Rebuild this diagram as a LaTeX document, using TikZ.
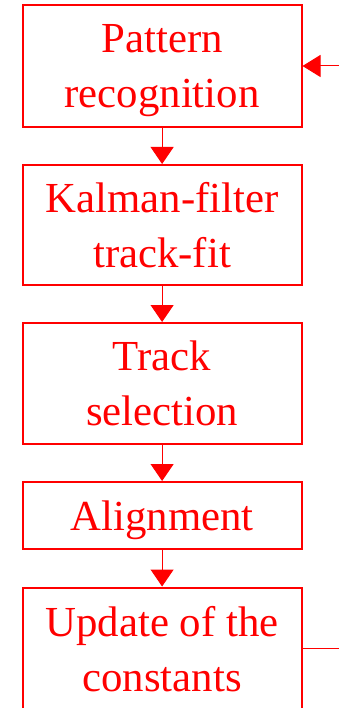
\documentclass[tikz,border=0pt]{standalone}
\usepackage{fontspec}
\setmainfont{Liberation Serif}
\usetikzlibrary{arrows.meta}
\definecolor{pptred}{RGB}{255,0,0}
\begin{document}
\begin{tikzpicture}[x=1pt,y=-1pt,
  stagebox/.style={draw=pptred, line width=2pt, text=pptred, minimum width=278.8pt,
    inner sep=0pt, align=center, text depth=0pt,
    font=\fontsize{42.8}{55}\selectfont},
  flowarrow/.style={draw=pptred, line width=1pt, -{Triangle[length=17pt,width=23pt]}},
  sidearrow/.style={draw=pptred, line width=1pt, -{Triangle[length=18pt,width=22pt]}},
  sideline/.style={draw=pptred, line width=1.2pt}]
\useasboundingbox (0,0) rectangle (339,708);
\node[stagebox, minimum height=122pt] (b1) at (162.1,66) {Pattern\\recognition};
\node[stagebox, minimum height=120pt] (b2) at (162.1,225) {Kalman-filter\\track-fit};
\node[stagebox, minimum height=121pt] (b3) at (162.1,383.5) {Track\\selection};
\node[stagebox, minimum height=67pt] (b4) at (162.1,515.5) {Alignment};
\node[stagebox, minimum height=122pt] (b5) at (162.1,648.5) {Update of the\\constants};
\coordinate (inR) at (339,66);
\coordinate (outR) at (339,648.5);
\draw[flowarrow] (b1.south) -- (b2.north);
\draw[flowarrow] (b2.south) -- (b3.north);
\draw[flowarrow] (b3.south) -- (b4.north);
\draw[flowarrow] (b4.south) -- (b5.north);
\draw[sidearrow] (inR) -- (b1.east);
\draw[sideline] (b5.east) -- (outR);
\end{tikzpicture}
\end{document}
